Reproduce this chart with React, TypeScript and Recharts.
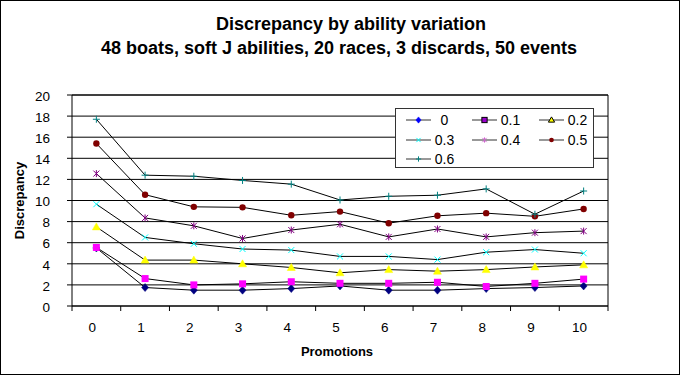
import React from 'react';
import { LineChart, Line, XAxis, YAxis, CartesianGrid, Legend, ReferenceLine } from 'recharts';

const promotions = [0, 1, 2, 3, 4, 5, 6, 7, 8, 9, 10];
const seriesNames = ['0', '0.1', '0.2', '0.3', '0.4', '0.5', '0.6'];
const v00 = [5.5, 1.75, 1.5, 1.5, 1.65, 1.9, 1.5, 1.5, 1.65, 1.75, 1.9];
const v01 = [5.55, 2.6, 2.0, 2.1, 2.3, 2.15, 2.15, 2.25, 1.85, 2.15, 2.55];
const v02 = [7.5, 4.35, 4.35, 4.0, 3.65, 3.15, 3.45, 3.3, 3.45, 3.7, 3.9];
const v03 = [9.65, 6.5, 5.9, 5.4, 5.3, 4.7, 4.7, 4.4, 5.1, 5.35, 5.0];
const v04 = [12.55, 8.35, 7.6, 6.4, 7.2, 7.75, 6.55, 7.3, 6.55, 6.95, 7.1];
const v05 = [15.4, 10.55, 9.4, 9.35, 8.6, 8.95, 7.85, 8.55, 8.8, 8.5, 9.2];
const v06 = [17.7, 12.4, 12.3, 11.9, 11.55, 10.05, 10.4, 10.5, 11.1, 8.7, 10.9];
const yTicks = [0, 2, 4, 6, 8, 10, 12, 14, 16, 18, 20];
const titleLine1 = 'Discrepancy by ability variation';
const titleLine2 = '48 boats, soft J abilities, 20 races, 3 discards, 50 events';
const xTitle = 'Promotions';
const yTitle = 'Discrepancy';

const allValues = [v00, v01, v02, v03, v04, v05, v06];
const keys = ['s0', 's1', 's2', 's3', 's4', 's5', 's6'];
const shapes = ['diamond', 'square', 'triangle', 'x', 'star', 'circle', 'plus'];
const colors = ['#000080', '#FF00FF', '#FFFF00', '#00FFFF', '#800080', '#800000', '#008080'];
const legendColors = ['#0000FF', '#9900CC', '#FFFF00', '#00FFFF', '#CC66CC', '#800000', '#008080'];

const data = promotions.map((p, i) => {
  const row: any = { p };
  keys.forEach((k, j) => { row[k] = allValues[j][i]; });
  return row;
});

const xTicks: number[] = [];
for (let i = -1; i < promotions.length; i++) {
  xTicks.push(i + 0.5);
  if (i + 1 < promotions.length) xTicks.push(promotions[i + 1]);
}
xTicks.sort((a, b) => a - b);

const FONT = 'Arial, "Liberation Sans", sans-serif';

function Marker({ shape, color, cx, cy, s = 1, outline }: any) {
  const r = 3.5 * s;
  switch (shape) {
    case 'diamond':
      return <polygon points={`${cx},${cy - r - 0.5} ${cx + r},${cy} ${cx},${cy + r + 0.5} ${cx - r},${cy}`} fill={color} stroke={outline || color} strokeWidth={0.5} />;
    case 'square':
      return <rect x={cx - r} y={cy - r} width={2 * r} height={2 * r} fill={color} stroke={outline || color} strokeWidth={outline ? 1 : 0} />;
    case 'triangle':
      return <polygon points={`${cx},${cy - r - 0.5} ${cx + r + 0.5},${cy + r - 0.5} ${cx - r - 0.5},${cy + r - 0.5}`} fill={color} stroke={outline || color} strokeWidth={outline ? 1 : 0.5} />;
    case 'x':
      return (
        <g stroke={color} strokeWidth={1}>
          <line x1={cx - r + 0.5} y1={cy - r + 0.5} x2={cx + r - 0.5} y2={cy + r - 0.5} />
          <line x1={cx - r + 0.5} y1={cy + r - 0.5} x2={cx + r - 0.5} y2={cy - r + 0.5} />
        </g>
      );
    case 'star':
      return (
        <g stroke={color} strokeWidth={1}>
          <line x1={cx - r + 0.5} y1={cy - r + 0.5} x2={cx + r - 0.5} y2={cy + r - 0.5} />
          <line x1={cx - r + 0.5} y1={cy + r - 0.5} x2={cx + r - 0.5} y2={cy - r + 0.5} />
          <line x1={cx} y1={cy - r} x2={cx} y2={cy + r} />
        </g>
      );
    case 'circle':
      return <circle cx={cx} cy={cy} r={r - 0.3} fill={color} />;
    case 'plus':
    default:
      return (
        <g stroke={color} strokeWidth={1}>
          <line x1={cx - r} y1={cy} x2={cx + r} y2={cy} />
          <line x1={cx} y1={cy - r} x2={cx} y2={cy + r} />
        </g>
      );
  }
}

const makeDot = (shape: string, color: string) => (props: any) => {
  const { cx, cy, index } = props;
  if (cx == null || cy == null) return <g key={`d-${shape}-${index}`} />;
  return (
    <g key={`d-${shape}-${index}`}>
      <Marker shape={shape} color={color} cx={cx} cy={cy} />
    </g>
  );
};

const XTick = (props: any) => {
  const { x, y, payload } = props;
  const v = payload.value;
  if (!Number.isInteger(v)) {
    return <line x1={x} y1={y - 5} x2={x} y2={y} stroke="#000" strokeWidth={1} />;
  }
  return (
    <text x={x - 4} y={y + 21} textAnchor="middle" fontSize={13.5} fontFamily={FONT} fill="#000">
      {v}
    </text>
  );
};

const LegendContent = () => {
  const colX = [11, 77, 144];
  const rowY = [12, 32, 51];
  return (
    <svg width={199} height={60} style={{ display: 'block', overflow: 'visible' }}>
      <rect x={0.5} y={0.5} width={198} height={59} fill="#fff" stroke="#333" strokeWidth={1} />
      {seriesNames.map((name, i) => {
        const cx0 = colX[i % 3];
        const cy = rowY[Math.floor(i / 3)];
        const lineEnd = cx0 + 25;
        const outline = shapes[i] === 'square' || shapes[i] === 'triangle' ? '#000' : undefined;
        return (
          <g key={name}>
            <line x1={cx0} y1={cy} x2={lineEnd} y2={cy} stroke="#333" strokeWidth={1} />
            <Marker shape={shapes[i]} color={legendColors[i]} cx={cx0 + 12.5} cy={cy} s={0.75} outline={outline} />
            <text x={lineEnd + 13.5} y={cy + 5} textAnchor="middle" fontSize={14} fontFamily={FONT} fill="#000">
              {name}
            </text>
          </g>
        );
      })}
    </svg>
  );
};

export default function App() {
  return (
    <div style={{ position: 'absolute', left: 0, top: 0, width: 680, height: 375, background: '#fff' }}>
      <LineChart width={680} height={375} data={data} margin={{ top: 95, right: 72, bottom: 39, left: 32 }}>
        <text x={351} y={30} textAnchor="middle" fontSize={18} fontWeight="bold" fontFamily={FONT} fill="#000">
          {titleLine1}
        </text>
        <text x={339} y={53.5} textAnchor="middle" fontSize={18} fontWeight="bold" fontFamily={FONT} fill="#000">
          {titleLine2}
        </text>
        <CartesianGrid vertical={false} stroke="#000" strokeWidth={1} />
        <XAxis
          dataKey="p"
          type="number"
          domain={[-0.5, 10.5]}
          ticks={xTicks}
          interval={0}
          tickLine={false}
          tickSize={5}
          tickMargin={0}
          height={30}
          axisLine={{ stroke: '#000' }}
          tick={<XTick />}
          label={{
            value: xTitle,
            position: 'bottom',
            offset: 11,
            style: { fontSize: 13, fontWeight: 'bold', fontFamily: FONT, fill: '#000' },
            dx: -3,
          }}
        />
        <YAxis
          domain={[0, 20]}
          ticks={yTicks}
          interval={0}
          width={40}
          tickSize={5}
          tickMargin={17}
          tickLine={{ stroke: '#000' }}
          axisLine={{ stroke: '#000' }}
          tick={{ fontSize: 13.5, fontFamily: FONT, fill: '#000', dy: 1 }}
          label={{
            value: yTitle,
            angle: -90,
            position: 'insideLeft',
            offset: -13,
            style: { fontSize: 13, fontWeight: 'bold', fontFamily: FONT, fill: '#000', textAnchor: 'middle' },
          }}
        />
        <ReferenceLine x={10.5} stroke="#000" strokeWidth={1} />
        <ReferenceLine y={20} stroke="#000" strokeWidth={1} />
        {keys.map((k, i) => (
          <Line
            key={k}
            dataKey={k}
            name={seriesNames[i]}
            stroke="#000"
            strokeWidth={1}
            dot={makeDot(shapes[i], colors[i])}
            activeDot={false}
            isAnimationActive={false}
          />
        ))}
        <Legend
          layout="horizontal"
          verticalAlign="middle"
          align="center"
          wrapperStyle={{ left: 395, top: 108, width: 199, height: 60 }}
          content={<LegendContent />}
        />
      </LineChart>
      <div
        style={{
          position: 'absolute', left: 0, top: 0, width: 680, height: 375,
          border: '1px solid #000', boxSizing: 'border-box', pointerEvents: 'none',
        }}
      />
    </div>
  );
}
